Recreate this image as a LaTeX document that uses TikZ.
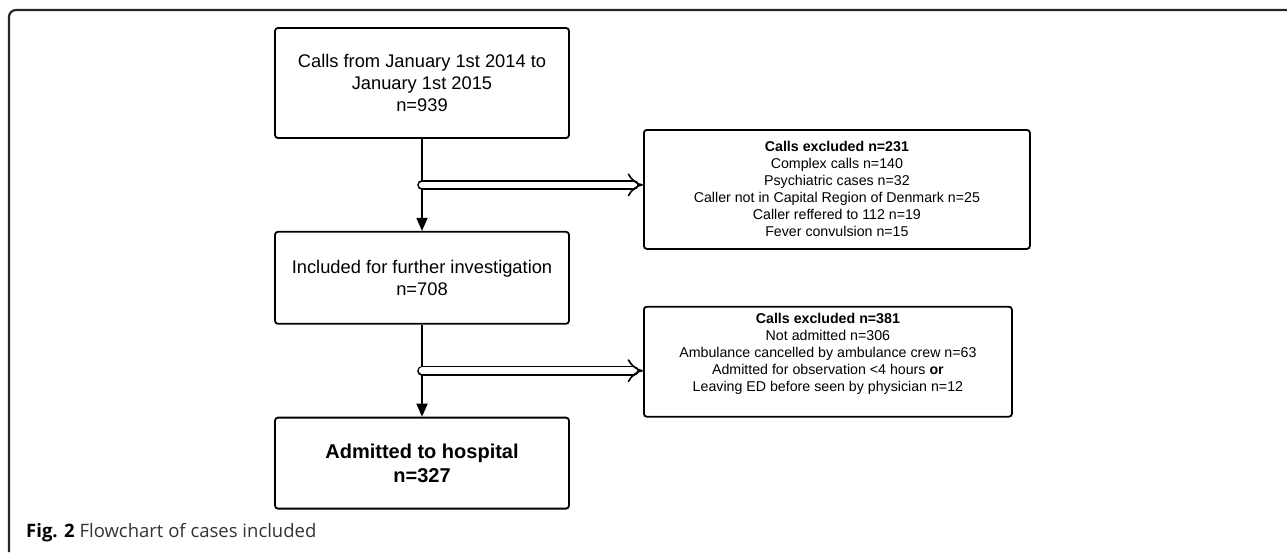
\documentclass[tikz,border=0pt]{standalone}
\usepackage{fontspec}
\setmainfont{Liberation Sans}
\newfontfamily\capfont{Open Sans}
\usetikzlibrary{positioning, calc, arrows.meta}

\begin{document}
\begin{tikzpicture}[x=1pt, y=-1pt, >={Triangle[width=11pt,length=13pt]},
					node distance=92pt, line width=1.8pt,
					stage/.style={draw, rounded corners=3pt, minimum width=294pt, inner sep=0pt,
						align=center, font=\fontsize{18.3}{22}\selectfont},
					excl/.style={draw, rounded corners=3pt, inner sep=0pt,
						align=center, font=\fontsize{14.2}{17}\selectfont},
					hollow/.style={double, double distance=6.5pt, line width=1.6pt, line cap=round, -{Implies[scale=1.3]}}]
					\useasboundingbox (0,0) rectangle (1287,552);
					
					% frame of the figure
					\draw[line width=2.2pt, rounded corners=7pt, black!85] (9,552) -- (9,10) -- (1287,10);
					
					\node[stage, minimum height=110pt] (calls) at (422,83) {Calls from January 1st 2014 to\\January 1st 2015\\n=939};
					\node[stage, minimum height=92pt, below=of calls] (incl) {Included for further investigation\\n=708};
					\node[stage, minimum height=91pt, below=of incl, font=\bfseries\fontsize{20}{24}\selectfont] (adm) {Admitted to hospital\\n=327};
					
					\coordinate (s1) at ($(calls.south)!0.5!(incl.north)$);
					\coordinate (s2) at ($(incl.south)!0.5!(adm.north)$);
					
					% exclusions
					\node[excl, minimum width=386pt, minimum height=119pt, right=221pt of s1, yshift=-4.5pt] (ex1)
					{\textbf{Calls excluded n=231}\\Complex calls n=140\\Psychiatric cases n=32\\Caller not in Capital Region of Denmark n=25\\Caller reffered to 112 n=19\\Fever convulsion n=15};
					\node[excl, minimum width=368pt, minimum height=110pt, right=221pt of s2, yshift=9pt] (ex2)
					{\textbf{Calls excluded n=381}\\Not admitted n=306\\Ambulance cancelled by ambulance crew n=63\\Admitted for observation <4 hours \textbf{or}\\Leaving ED before seen by physician n=12\rule[-18pt]{0pt}{18pt}};
					
					%Ligações:
					\draw[->] (calls) -- (incl);
					\draw[->] (incl) -- (adm);
					\draw[hollow] (s1) -- (s1 -| ex1.west);
					\draw[hollow] (s2) -- (s2 -| ex2.west);
					
					\node[anchor=west, font=\capfont\fontsize{18.5}{22}\selectfont, text=black!80] (cap) at (22,533)
					{\textbf{\color{black}Fig. 2} Flowchart of cases included};
				\end{tikzpicture}
\end{document}
